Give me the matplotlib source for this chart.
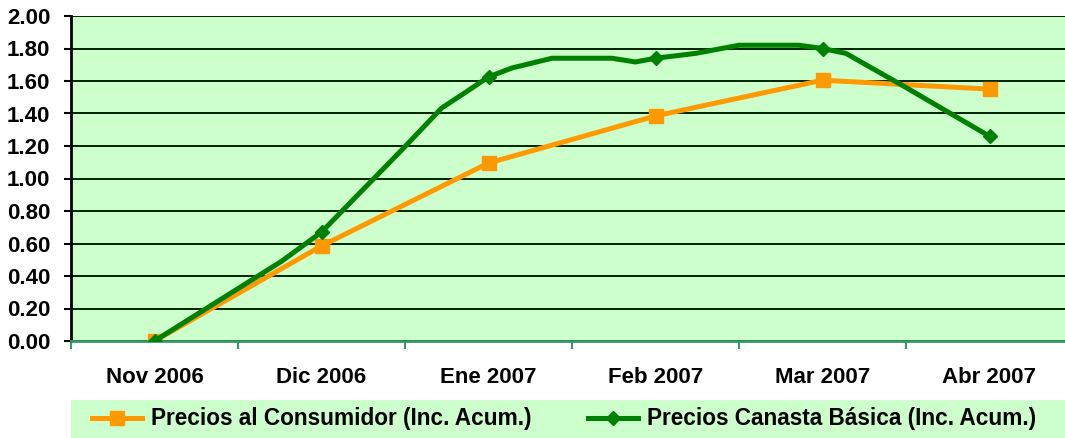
import matplotlib
matplotlib.use("Agg")
import matplotlib.pyplot as plt
from matplotlib.patches import Rectangle
import numpy as np

plt.rcParams['font.family'] = ['Liberation Sans', 'DejaVu Sans']

categories = ["Nov 2006", "Dic 2006", "Ene 2007", "Feb 2007", "Mar 2007", "Abr 2007"]
consumidor = [0.00, 0.585, 1.095, 1.385, 1.605, 1.55]

# Canasta básica: series at sub-monthly positions (month index), monthly points included
canasta_pos = [0.0, 0.76, 1.0, 1.48, 1.72, 1.865, 2.0, 2.14, 2.38, 2.74, 2.88, 3.0,
               3.24, 3.50, 3.86, 4.0, 4.14, 4.26, 4.50, 5.0]
canasta_val = [0.00, 0.49, 0.67, 1.175, 1.434, 1.532, 1.625, 1.68, 1.74, 1.74, 1.717, 1.74,
               1.77, 1.82, 1.82, 1.80, 1.77, 1.70, 1.56, 1.26]

label_cons = "Precios al Consumidor (Inc. Acum.)"
label_can = "Precios Canasta Básica (Inc. Acum.)"

W, H = 1065, 438
fig = plt.figure(figsize=(W / 100, H / 100), dpi=100)
ax = fig.add_axes([71 / W, (H - 341) / H, 1002 / W, 325 / H])
ax.set_facecolor('#CCFFCC')

x = np.arange(len(categories))
ax.plot(x, consumidor, color='#FF9900', lw=3.6, marker='s', markersize=9.5,
        markerfacecolor='#FF9900', markeredgecolor='#FF9900', label=label_cons, zorder=3)
mark_idx = [i for i, p in enumerate(canasta_pos) if float(p).is_integer()]
ax.plot(canasta_pos, canasta_val, color='#008000', lw=3.6, marker='D', markersize=7.5,
        markevery=mark_idx, markerfacecolor='#008000', markeredgecolor='#008000',
        label=label_can, zorder=4)

ax.set_xlim(-0.5, len(categories) - 0.5)
ax.set_ylim(0, 2.0)
yt = np.arange(0, 2.01, 0.2)
ax.set_yticks(yt)
ax.set_yticklabels([f"{v:.2f}" for v in yt], fontsize=16, fontweight='bold')
ax.yaxis.grid(True, color='#002200', lw=1.4)
ax.set_axisbelow(True)

ax.set_xticks(np.arange(-0.5, len(categories), 1.0))
ax.set_xticklabels([])
ax.set_xticks(x, minor=True)
ax.set_xticklabels(categories, minor=True, fontsize=16, fontweight='bold')
ax.tick_params(axis='x', which='major', direction='out', length=6, width=1.5, color='#339966')
ax.tick_params(axis='x', which='minor', length=0, pad=19)
ax.tick_params(axis='y', direction='out', length=5, width=1.5, color='black', pad=10)

for s in ['top', 'right']:
    ax.spines[s].set_visible(False)
ax.spines['left'].set_color('black')
ax.spines['left'].set_linewidth(2)
ax.spines['bottom'].set_color('#339966')
ax.spines['bottom'].set_linewidth(2)

# legend background band
fig.patches.append(Rectangle((71 / W, 0), (W - 71) / W, 38 / H, transform=fig.transFigure,
                             facecolor='#CCFFCC', edgecolor='none', zorder=0))
handles, labels = ax.get_legend_handles_labels()
leg = fig.legend(handles, labels, loc='center left', bbox_to_anchor=(92 / W, 19 / H),
                 ncol=2, frameon=False, prop={'size': 16.3, 'weight': 'bold'},
                 handlelength=2.2, handletextpad=0.4, columnspacing=2.5,
                 borderaxespad=0, borderpad=0)

fig.savefig("out.png", dpi=100)
